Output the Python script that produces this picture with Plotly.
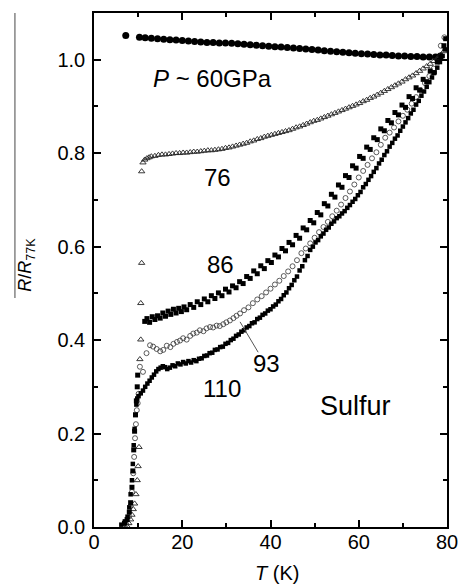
import plotly.graph_objects as go

# ---------------- data ----------------
# P ~ 60 GPa : filled circles
t60 = [7.2, 10.3, 11.6, 13.0, 14.4, 15.8, 17.2, 18.6, 20.0, 21.4, 22.8, 24.2, 25.6, 27.0, 28.4,
       29.8, 31.2, 32.6, 34.0, 35.4, 36.8, 38.2, 39.6, 41.0, 42.4, 43.8, 45.2, 46.6, 48.0, 49.4,
       50.8, 52.2, 53.6, 55.0, 56.4, 57.8, 59.2, 60.6, 62.0, 63.4, 64.8, 66.2, 67.6, 69.0, 70.4,
       71.8, 73.2, 74.6, 76.0, 77.4, 78.5]
r60 = [1.052, 1.048, 1.047, 1.046, 1.045, 1.044, 1.043, 1.042, 1.041, 1.040, 1.039, 1.038, 1.037,
       1.037, 1.036, 1.036, 1.035, 1.034, 1.033, 1.032, 1.031, 1.030, 1.029, 1.028, 1.027, 1.026,
       1.025, 1.024, 1.023, 1.022, 1.021, 1.019, 1.018, 1.017, 1.016, 1.015, 1.014, 1.013, 1.012,
       1.011, 1.010, 1.010, 1.009, 1.008, 1.008, 1.007, 1.007, 1.006, 1.006, 1.006, 1.008]

# 76 GPa : open triangles
t76 = [7.5, 7.9, 8.3, 8.6, 8.9, 9.2, 9.5, 9.8, 10.0, 10.2, 10.4, 10.6, 10.6, 10.8, 10.8,
       11.1, 11.5, 12.0, 12.5, 13.0, 13.8, 14.6, 15.4, 16.2, 17.0, 17.8, 18.6, 19.4, 20.2, 21.0,
       21.8, 22.6, 23.4, 24.2, 25.0, 25.8, 26.6, 27.4, 28.2, 29.0, 29.8, 30.6, 31.4, 32.2, 33.0,
       33.8, 34.6, 35.4, 36.2, 37.0, 37.8, 38.6, 39.4, 40.2, 41.0, 41.8, 42.6, 43.4, 44.2, 45.0,
       45.8, 46.6, 47.4, 48.2, 49.0, 49.8, 50.6, 51.4, 52.2, 53.0, 53.8, 54.6, 55.4, 56.2, 57.0,
       57.8, 58.6, 59.4, 60.2, 61.0, 61.8, 62.6, 63.4, 64.2, 65.0, 65.8, 66.6, 67.4, 68.2, 69.0,
       69.8, 70.6, 71.4, 72.2, 73.0, 73.8, 74.6, 75.4, 76.2, 77.0, 77.8, 78.6, 79.3]
r76 = [0.002, 0.008, 0.016, 0.026, 0.038, 0.050, 0.070, 0.100, 0.130, 0.171, 0.359, 0.401, 0.479,
       0.565, 0.761,
       0.780, 0.786, 0.789, 0.791, 0.793, 0.794, 0.796, 0.797, 0.797, 0.798, 0.799, 0.800, 0.800,
       0.801, 0.801, 0.802, 0.803, 0.803, 0.804, 0.805, 0.806, 0.806, 0.807, 0.808, 0.809, 0.811,
       0.812, 0.814, 0.816, 0.818, 0.820, 0.822, 0.825, 0.827, 0.830, 0.832, 0.835, 0.837, 0.839,
       0.841, 0.843, 0.845, 0.847, 0.849, 0.852, 0.855, 0.857, 0.860, 0.863, 0.866, 0.869, 0.871,
       0.874, 0.877, 0.880, 0.883, 0.886, 0.889, 0.892, 0.895, 0.898, 0.901, 0.904, 0.907, 0.911,
       0.914, 0.918, 0.921, 0.925, 0.929, 0.933, 0.937, 0.941, 0.945, 0.949, 0.953, 0.958, 0.962,
       0.966, 0.971, 0.976, 0.981, 0.986, 0.991, 0.997, 1.003, 1.010, 1.018]

# 86 GPa : filled squares
t86 = [6.9, 7.5, 8.0, 8.3, 8.6, 8.8, 9.0, 9.2, 9.4, 9.6, 9.8, 9.9,
       11.5, 12.0, 12.6, 13.2, 13.8, 14.4, 15.0, 15.6, 16.2, 16.8, 17.4, 18.0, 18.6, 19.2, 19.8,
       20.4, 21.0, 21.8, 22.6, 23.4, 24.2, 25.0, 25.8, 26.6, 27.4, 28.2, 29.0, 29.8, 30.6, 31.4,
       32.2, 33.0, 33.8, 34.6, 35.4, 36.2, 37.0, 37.8, 38.6, 39.4, 40.2, 41.0, 41.8, 42.6, 43.4,
       44.2, 45.0, 45.8, 46.6, 47.4, 48.2, 49.0, 49.8, 50.6, 51.4, 52.2, 53.0, 53.8, 54.6, 55.4,
       56.2, 57.0, 57.8, 58.6, 59.4, 60.2, 61.0, 61.8, 62.6, 63.4, 64.2, 65.0, 65.8, 66.6, 67.4,
       68.2, 69.0, 69.8, 70.6, 71.4, 72.2, 73.0, 73.8, 74.6, 75.4, 76.2, 77.0, 77.8, 78.6, 79.3,
       79.7]
r86 = [0.008, 0.016, 0.032, 0.052, 0.085, 0.120, 0.165, 0.205, 0.240, 0.270, 0.300, 0.325,
       0.440, 0.446, 0.438, 0.450, 0.444, 0.452, 0.447, 0.458, 0.451, 0.462, 0.455, 0.466, 0.458,
       0.468, 0.461, 0.471, 0.465, 0.476, 0.470, 0.482, 0.476, 0.488, 0.482, 0.495, 0.489, 0.501,
       0.495, 0.509, 0.503, 0.516, 0.512, 0.525, 0.521, 0.536, 0.532, 0.548, 0.542, 0.559, 0.553,
       0.570, 0.566, 0.582, 0.578, 0.596, 0.591, 0.609, 0.604, 0.624, 0.618, 0.640, 0.636, 0.656,
       0.651, 0.673, 0.668, 0.692, 0.687, 0.712, 0.706, 0.732, 0.727, 0.752, 0.748, 0.773, 0.768,
       0.793, 0.789, 0.813, 0.808, 0.833, 0.829, 0.852, 0.848, 0.870, 0.865, 0.887, 0.882, 0.903,
       0.898, 0.921, 0.917, 0.940, 0.935, 0.958, 0.953, 0.976, 0.972, 0.995, 1.005, 1.030, 1.045]

# 93 GPa : open circles
t93 = [7.3, 7.9, 8.3, 8.6, 8.9, 9.1, 9.3, 9.5, 9.7, 9.9, 10.1, 10.4,
       11.1, 11.9, 12.7, 13.4, 14.2, 15.0, 15.7, 16.5, 17.3, 18.0, 18.8, 19.5, 20.2, 21.0, 21.8,
       22.5, 23.3, 24.0, 24.8, 25.5, 26.3, 27.0, 27.8, 28.5, 29.3, 30.0, 30.8, 31.6, 32.3, 33.1,
       34.0, 35.0, 36.0, 37.0, 38.0, 39.0, 40.0, 41.0, 42.0, 43.0, 44.0, 45.0, 46.0, 47.0, 48.0,
       49.0, 50.0, 51.0, 52.0, 53.0, 54.0, 55.0, 56.0, 57.0, 58.0, 59.0, 60.0, 61.0, 62.0, 63.0,
       64.0, 65.0, 66.0, 67.0, 68.0, 69.0, 70.0, 71.0, 72.0, 73.0, 74.0, 75.0, 76.0, 77.0, 78.0,
       78.6, 79.4]
r93 = [0.006, 0.022, 0.045, 0.075, 0.115, 0.150, 0.190, 0.220, 0.250, 0.265, 0.285, 0.343,
       0.332, 0.372, 0.389, 0.386, 0.381, 0.376, 0.379, 0.388, 0.385, 0.392, 0.396, 0.399, 0.404,
       0.401, 0.409, 0.414, 0.416, 0.421, 0.419, 0.425, 0.428, 0.427, 0.431, 0.430, 0.434, 0.438,
       0.442, 0.447, 0.452, 0.457, 0.464, 0.470, 0.479, 0.487, 0.494, 0.502, 0.510, 0.519, 0.527,
       0.537, 0.547, 0.558, 0.571, 0.586, 0.596, 0.607, 0.619, 0.631, 0.642, 0.653, 0.665, 0.677,
       0.690, 0.704, 0.718, 0.733, 0.748, 0.762, 0.775, 0.789, 0.802, 0.818, 0.833, 0.844, 0.855,
       0.868, 0.880, 0.893, 0.906, 0.920, 0.935, 0.950, 0.965, 0.981, 1.000, 1.030, 1.048]

# 110 GPa : small filled squares
t110 = [6.2, 7.0, 7.6, 8.0, 8.3, 8.6, 8.8, 9.0, 9.2, 9.4, 9.6, 9.8, 10.1, 10.6,
        11.1, 11.6, 12.1, 12.6, 13.1, 13.6, 14.1, 14.6, 15.1, 15.6, 16.1, 16.6, 17.2, 17.8, 18.4,
        19.0, 19.6, 20.2, 20.8, 21.4, 22.0, 22.6, 23.2, 23.8, 24.4, 25.0, 25.6, 26.2, 26.8, 27.4,
        28.0, 28.6, 29.2, 29.8, 30.4, 31.0, 31.6, 32.2, 32.8, 33.4, 34.0, 34.6, 35.2, 35.8, 36.4,
        37.0, 37.6, 38.2, 38.8, 39.4, 40.0, 40.6, 41.2, 41.8, 42.4, 43.0, 43.6, 44.2, 44.8, 45.4,
        46.0, 46.6, 47.2, 47.8, 48.4, 49.0, 49.6, 50.2, 50.8, 51.4, 52.0, 52.6, 53.2, 53.8, 54.4,
        55.0, 55.6, 56.2, 56.8, 57.4, 58.0, 58.6, 59.2, 59.8, 60.4, 61.0, 61.6, 62.2, 62.8, 63.4,
        64.0, 64.6, 65.2, 65.8, 66.4, 67.0, 67.6, 68.2, 68.8, 69.4, 70.0, 70.6, 71.2, 71.8, 72.4,
        73.0, 73.6, 74.2, 74.8, 75.4, 76.0, 76.6, 77.2, 77.8, 78.4, 79.0, 79.5]
r110 = [0.005, 0.012, 0.022, 0.042, 0.070, 0.100, 0.135, 0.175, 0.210, 0.240, 0.262, 0.275,
        0.280, 0.286,
        0.292, 0.300, 0.307, 0.313, 0.320, 0.326, 0.333, 0.338, 0.341, 0.344, 0.342, 0.338, 0.341,
        0.346, 0.344, 0.350, 0.348, 0.353, 0.350, 0.355, 0.352, 0.357, 0.355, 0.360, 0.361, 0.366,
        0.367, 0.372, 0.373, 0.379, 0.380, 0.385, 0.386, 0.392, 0.394, 0.400, 0.403, 0.409, 0.412,
        0.418, 0.421, 0.427, 0.430, 0.436, 0.438, 0.445, 0.448, 0.454, 0.457, 0.463, 0.466, 0.472,
        0.476, 0.483, 0.488, 0.496, 0.502, 0.511, 0.518, 0.528, 0.536, 0.549, 0.558, 0.571, 0.580,
        0.593, 0.600, 0.609, 0.614, 0.622, 0.628, 0.636, 0.641, 0.649, 0.654, 0.661, 0.665, 0.671,
        0.676, 0.683, 0.689, 0.696, 0.702, 0.710, 0.717, 0.727, 0.734, 0.743, 0.751, 0.760, 0.768,
        0.778, 0.786, 0.796, 0.804, 0.814, 0.822, 0.831, 0.838, 0.848, 0.857, 0.866, 0.875, 0.885,
        0.893, 0.904, 0.912, 0.923, 0.932, 0.942, 0.952, 0.962, 0.973, 0.983, 0.995, 1.008, 1.022]

x_ticks = [0, 20, 40, 60, 80]
y_ticks = [0.0, 0.2, 0.4, 0.6, 0.8, 1.0]

# labels on the curves: (text, T, R, size)
curve_labels = [
    ("<i>P</i> ~ 60GPa", 26.8, 0.959, 24),
    ("76", 28.1, 0.747, 24),
    ("86", 28.6, 0.561, 24),
    ("93", 39.2, 0.350, 24),
    ("110", 29.0, 0.297, 24),
    ("Sulfur", 59.3, 0.258, 27),
]
pointer_93 = ([33.1, 37.2], [0.439, 0.374])

# ---------------- figure ----------------
FONT = "Liberation Sans, Arial, Helvetica, sans-serif"
fig = go.Figure()

fig.add_trace(go.Scatter(x=t60, y=r60, mode="markers",
                         marker=dict(symbol="circle", size=7, color="#000000", line=dict(width=0))))
fig.add_trace(go.Scatter(x=t76, y=r76, mode="markers",
                         marker=dict(symbol="triangle-up-open", size=5.5, color="#222222",
                                     line=dict(width=0.9, color="#222222"))))
fig.add_trace(go.Scatter(x=t93, y=r93, mode="markers",
                         marker=dict(symbol="circle-open", size=5, color="#333333",
                                     line=dict(width=0.8, color="#333333"))))
fig.add_trace(go.Scatter(x=t86, y=r86, mode="markers",
                         marker=dict(symbol="square", size=5, color="#000000", line=dict(width=0))))
fig.add_trace(go.Scatter(x=t110, y=r110, mode="markers",
                         marker=dict(symbol="square", size=4.5, color="#000000", line=dict(width=0))))
fig.add_trace(go.Scatter(x=pointer_93[0], y=pointer_93[1], mode="lines",
                         line=dict(color="#555555", width=1)))

for text, tx, ty, sz in curve_labels:
    fig.add_annotation(x=tx, y=ty, xref="x", yref="y", text=text, showarrow=False,
                       xanchor="center", yanchor="middle",
                       font=dict(family=FONT, size=sz, color="#000000"))

# axis titles as annotations
fig.add_annotation(x=0.518, y=-0.0895, xref="paper", yref="paper", text="<i>T</i> (K)",
                   showarrow=False, xanchor="center", yanchor="middle",
                   font=dict(family=FONT, size=20, color="#000000"))
fig.add_annotation(x=-0.19, y=0.51, xref="paper", yref="paper",
                   text="<i>R</i>/<i>R</i><sub>77K</sub>", textangle=-90,
                   showarrow=False, xanchor="center", yanchor="middle",
                   font=dict(family=FONT, size=18, color="#000000"))
fig.add_shape(type="line", xref="paper", yref="paper", x0=-0.224, x1=-0.224, y0=1.0, y1=0.4455,
              line=dict(color="#666666", width=1.2))

axis_common = dict(showline=True, linecolor="#000000", linewidth=1.6, mirror="allticks",
                   ticks="inside", ticklen=7, tickwidth=1.5, tickcolor="#000000",
                   showgrid=False, zeroline=False, ticklabeloverflow="allow", automargin=False,
                   tickfont=dict(family=FONT, size=20, color="#000000"))

fig.update_xaxes(range=[0, 80], tickvals=x_ticks, ticklabelstandoff=-4,
                 minor=dict(dtick=10, tick0=0, ticks="inside", ticklen=4, tickwidth=1.5,
                            tickcolor="#000000", showgrid=False),
                 **axis_common)
fig.update_yaxes(range=[0, 1.1], tickvals=y_ticks, tickformat=".1f", ticklabelstandoff=3,
                 minor=dict(dtick=0.1, tick0=0, ticks="inside", ticklen=4, tickwidth=1.5,
                            tickcolor="#000000", showgrid=False),
                 **axis_common)

fig.update_layout(width=458, height=585, showlegend=False, autosize=False,
                  plot_bgcolor="#ffffff", paper_bgcolor="#ffffff",
                  margin=dict(l=94, r=11, t=13, b=58, autoexpand=False),
                  font=dict(family=FONT, color="#000000"))

# remove the browser's default page margin / scrollbars so the figure fills the window exactly
fig.write_html("out.html",
               config={"displayModeBar": False, "responsive": False},
               post_script="document.body.style.margin='0';document.body.style.overflow='hidden';")
